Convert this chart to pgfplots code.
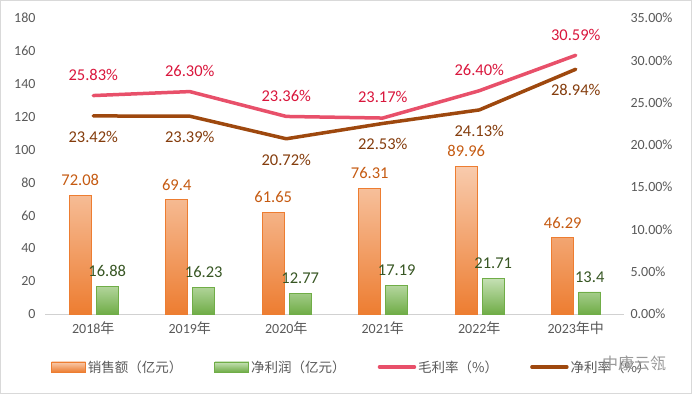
\documentclass[border=0pt]{standalone}
\usepackage{pgfplots}
\pgfplotsset{compat=1.18}
\usepackage{fontspec}
\setmainfont{Carlito}
\newfontfamily\cjk{Noto Sans CJK SC}
\definecolor{orT}{HTML}{F8CBAD}
\definecolor{orB}{HTML}{ED7D31}
\definecolor{orL}{HTML}{C55A11}
\definecolor{grT}{HTML}{C5E0B4}
\definecolor{grB}{HTML}{70AD47}
\definecolor{grL}{HTML}{375623}
\definecolor{redL}{HTML}{E8506A}
\definecolor{redT}{HTML}{D9163C}
\definecolor{brL}{HTML}{9E480E}
\definecolor{brT}{HTML}{843C0C}
\definecolor{tk}{HTML}{595959}

\pgfplotsset{
  barleg/.style={legend image code/.code={\draw[##1] (0pt,-5pt) rectangle (34pt,5pt);}},
  lineleg/.style={legend image code/.code={\draw[##1] (0pt,0pt) -- (35pt,0pt);}},
}

\pgfplotstableread{
x sales profit gross net
0 72.08 16.88 25.83 23.42
1 69.4  16.23 26.30 23.39
2 61.65 12.77 23.36 20.72
3 76.31 17.19 23.17 22.53
4 89.96 21.71 26.40 24.13
5 46.29 13.4  30.59 28.94
}\datatable

\begin{document}
\begin{tikzpicture}
\draw[draw=black!15, line width=1pt] (0.5pt,0.5pt) rectangle (691.5pt,393.5pt);
\useasboundingbox (0,0) rectangle (692pt,394pt);
\begin{axis}[
  at={(45pt,80pt)}, anchor=south west,
  scale only axis, width=579pt, height=296pt,
  xmin=-0.5, xmax=5.5, ymin=0, ymax=180,
  /pgf/number format/assume math mode=true,
  ytick={0,20,...,180},
  xtick={0,...,5},
  xticklabels={2018{\cjk 年},2019{\cjk 年},2020{\cjk 年},2021{\cjk 年},2022{\cjk 年},2023{\cjk 年中}},
  axis x line*=bottom, axis y line*=left,
  x axis line style={-, draw=black!18, line width=1pt},
  y axis line style={draw=none},
  major tick length=0pt,
  tick label style={font=\fontsize{14}{16}\selectfont, text=tk},
  yticklabel style={xshift=-6pt},
  xticklabel style={yshift=-4pt},
  ybar, bar width=22pt,
  point meta=y,
  nodes near coords,
  nodes near coords style={font=\fontsize{16.5}{18}\selectfont, yshift=6pt},
]
\addplot[bar shift=-13pt, draw=orB, line width=0.8pt, top color=orT, bottom color=orB,
  nodes near coords style={text=orL}] table[x=x, y=sales] {\datatable};
\addplot[bar shift=14pt, draw=grB, line width=0.8pt, top color=grT, bottom color=grB,
  nodes near coords style={text=grL}] table[x=x, y=profit] {\datatable};
\end{axis}

\begin{axis}[
  at={(45pt,80pt)}, anchor=south west,
  scale only axis, width=579pt, height=296pt,
  xmin=-0.5, xmax=5.5, ymin=0, ymax=35,
  /pgf/number format/assume math mode=true,
  axis y line*=right, axis x line=none,
  y axis line style={draw=none},
  major tick length=0pt,
  ytick={0,5,...,35},
  yticklabel={\pgfmathprintnumber[fixed,fixed zerofill,precision=2]{\tick}\%},
  yticklabel style={xshift=3pt, font=\fontsize{14}{16}\selectfont, text=tk},
  point meta=y,
  nodes near coords={\pgfmathprintnumber[fixed,fixed zerofill,precision=2]{\pgfplotspointmeta}\%},
  legend style={at={(0.53,-0.179)}, anchor=center, draw=none, fill=none,
    font=\fontsize{13.5}{15}\selectfont\cjk, text=tk, legend columns=4,
    nodes={inner xsep=2pt},
    /tikz/every even column/.append style={column sep=30pt},
    legend cell align=left},
]
\addlegendimage{draw=orB, line width=0.8pt, top color=orT, bottom color=orB, barleg}
\addlegendentry{销售额（亿元）}
\addlegendimage{draw=grB, line width=0.8pt, top color=grT, bottom color=grB, barleg}
\addlegendentry{净利润（亿元）}
\addplot[redL, line width=3.5pt, line cap=round, line join=round,
  nodes near coords style={font=\fontsize{16.5}{18}\selectfont, text=redT, anchor=south, yshift=10pt},
  lineleg]
  table[x=x, y=gross] {\datatable};
\addlegendentry{毛利率（\%）}
\addplot[brL, line width=3.5pt, line cap=round, line join=round,
  nodes near coords style={font=\fontsize{16.5}{18}\selectfont, text=brT, anchor=north, yshift=-10pt},
  lineleg]
  table[x=x, y=net] {\datatable};
\addlegendentry{净利率（\%）}
\end{axis}
\node[text=black!40, font=\fontsize{16}{18}\selectfont\cjk] at (634pt,31pt) {中康云瓴};
\end{tikzpicture}
\end{document}
